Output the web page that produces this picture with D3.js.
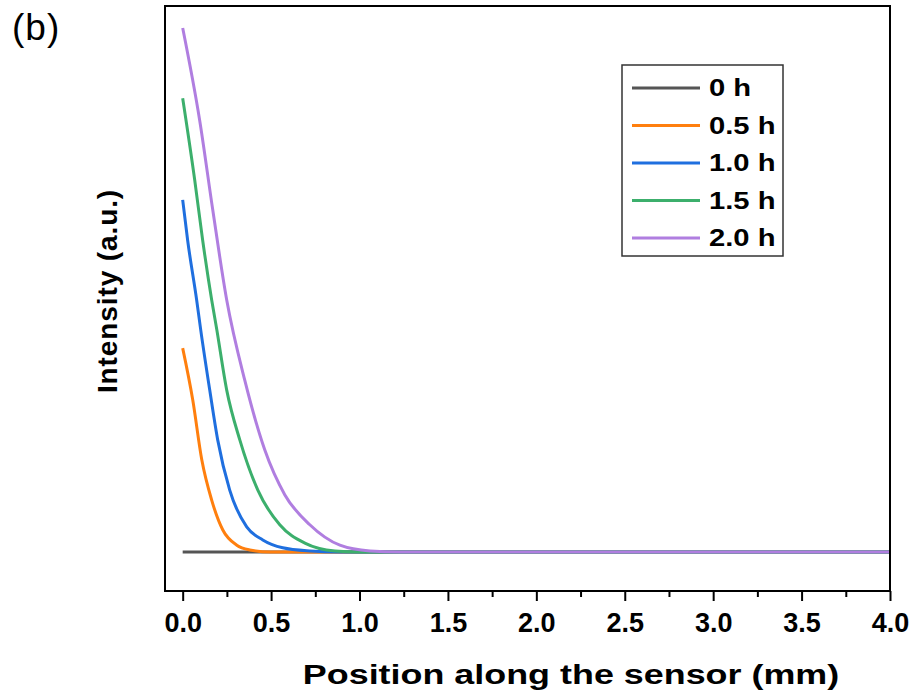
<!DOCTYPE html>
<html>
<head>
<meta charset="utf-8">
<script src="https://cdn.jsdelivr.net/npm/d3@7"></script>
<style>
  html, body { margin: 0; padding: 0; background: #fff; }
  svg { display: block; }
  text { font-family: "Liberation Sans", Arial, sans-serif; }
</style>
</head>
<body>
<script>
// ---- data ----
const seriesLabels = ["0 h", "0.5 h", "1.0 h", "1.5 h", "2.0 h"];
const seriesColors = ["#555555", "#ff7f0e", "#1f6fdf", "#3caf6c", "#b07ee0"];

const x0h = [0.0, 4.0];
const y0h = [0.0, 0.0];

const x05h = [0.0, 0.057, 0.108, 0.164, 0.227, 0.306, 0.380, 0.495, 4.0];
const y05h = [3.89, 2.90, 1.76, 0.99, 0.42, 0.13, 0.04, 0.0, 0.0];

const x10h = [0.0, 0.028, 0.079, 0.102, 0.153, 0.198, 0.266, 0.362, 0.453, 0.566, 0.719, 0.889, 4.0];
const y10h = [6.72, 5.95, 4.81, 4.24, 3.09, 2.14, 1.18, 0.48, 0.23, 0.08, 0.02, 0.0, 0.0];

const x15h = [0.0, 0.068, 0.113, 0.164, 0.193, 0.249, 0.323, 0.425, 0.549, 0.691, 0.861, 1.0, 4.0];
const y15h = [8.66, 7.10, 5.95, 4.81, 4.24, 3.09, 2.14, 1.18, 0.52, 0.17, 0.02, 0.0, 0.0];

const x20h = [0.0, 0.096, 0.170, 0.249, 0.351, 0.464, 0.578, 0.719, 0.889, 1.059, 1.229, 4.0];
const y20h = [10.0, 8.24, 6.53, 4.81, 3.28, 1.95, 1.09, 0.52, 0.13, 0.02, 0.0, 0.0];

const xTickValues = [0.0, 0.5, 1.0, 1.5, 2.0, 2.5, 3.0, 3.5, 4.0];
const xMinorTickValues = [0.25, 0.75, 1.25, 1.75, 2.25, 2.75, 3.25, 3.75];

const xs = [x0h, x05h, x10h, x15h, x20h];
const ys = [y0h, y05h, y10h, y15h, y20h];

// ---- layout ----
const W = 914, H = 696;
const pL = 165, pR = 890, pT = 6, pB = 591;

const svg = d3.select("body").append("svg").attr("width", W).attr("height", H);

const x = d3.scaleLinear().domain([-0.1, 4.0]).range([pL, pR]);
const y = d3.scaleLinear().domain([-0.744, 10.42]).range([pB, pT]);

// clip
svg.append("defs").append("clipPath").attr("id", "clip")
  .append("rect").attr("x", pL).attr("y", pT).attr("width", pR - pL).attr("height", pB - pT);

// lines
const line = d3.line().x(d => x(d[0])).y(d => y(d[1])).curve(d3.curveMonotoneX);
const g = svg.append("g").attr("clip-path", "url(#clip)");
xs.forEach((xa, i) => {
  const pts = xa.map((v, j) => [v, ys[i][j]]);
  g.append("path").datum(pts).attr("d", line)
    .attr("fill", "none").attr("stroke", seriesColors[i]).attr("stroke-width", 3)
    .attr("stroke-linejoin", "round");
});

// frame
svg.append("rect").attr("x", pL).attr("y", pT).attr("width", pR - pL).attr("height", pB - pT)
  .attr("fill", "none").attr("stroke", "#000").attr("stroke-width", 2);

// x axis
const xAxis = d3.axisBottom(x).tickValues(xTickValues).tickFormat(d3.format(".1f")).tickSize(10).tickPadding(12);
const xag = svg.append("g").attr("transform", `translate(0,${pB})`).call(xAxis);
xag.select(".domain").remove();
xag.selectAll(".tick line").attr("stroke", "#000").attr("stroke-width", 2);
xag.selectAll(".tick text").attr("font-size", 27).attr("font-weight", "bold").attr("fill", "#000")
  .attr("font-family", "Liberation Sans, Arial, sans-serif");
const xm = d3.axisBottom(x).tickValues(xMinorTickValues).tickFormat("").tickSize(6);
const xmg = svg.append("g").attr("transform", `translate(0,${pB})`).call(xm);
xmg.select(".domain").remove();
xmg.selectAll(".tick line").attr("stroke", "#000").attr("stroke-width", 2);

// axis titles
svg.append("text").attr("transform", "translate(571,684) scale(1.33,1)").attr("text-anchor", "middle")
  .attr("font-size", 27).attr("font-weight", "bold")
  .text("Position along the sensor (mm)");
svg.append("text").attr("transform", "translate(117,291) rotate(-90)").attr("text-anchor", "middle")
  .attr("font-size", 28).attr("font-weight", "bold").attr("letter-spacing", "0.9px")
  .text("Intensity (a.u.)");

// panel label
svg.append("text").attr("x", 12).attr("y", 40).attr("font-size", 37).attr("letter-spacing", "1px").text("(b)");

// legend
const lg = svg.append("g");
lg.append("rect").attr("x", 622).attr("y", 65).attr("width", 161).attr("height", 191)
  .attr("fill", "#fff").attr("stroke", "#333").attr("stroke-width", 1.5);
seriesLabels.forEach((lab, i) => {
  const yy = 88 + i * 37.5;
  lg.append("line").attr("x1", 632).attr("x2", 700).attr("y1", yy).attr("y2", yy)
    .attr("stroke", seriesColors[i]).attr("stroke-width", 3);
  lg.append("text").attr("transform", `translate(709,${yy + 8}) scale(1.27,1)`)
    .attr("font-size", 23).attr("font-weight", "bold").text(lab);
});
</script>
</body>
</html>
